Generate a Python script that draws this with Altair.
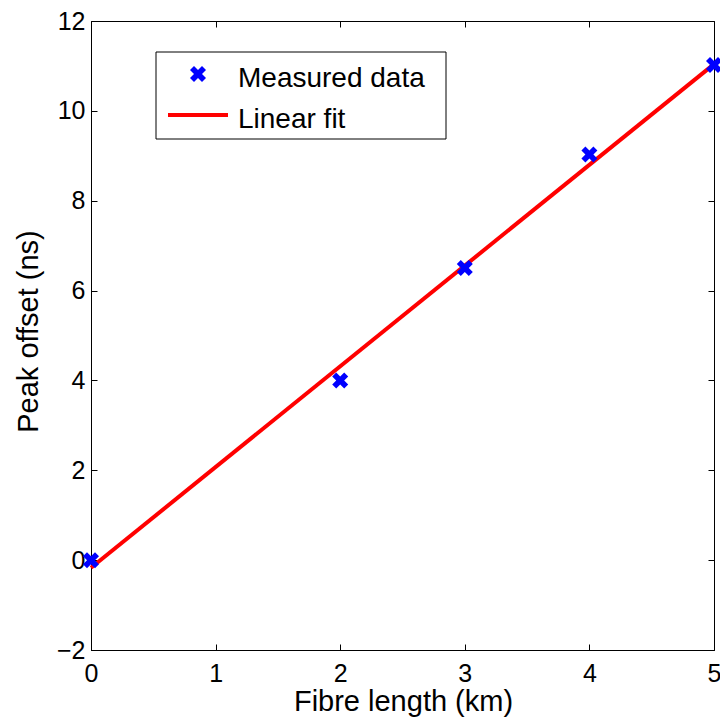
import altair as alt
import pandas as pd

# ---- data ----
fibre_km = [0, 2, 3, 4, 5]
offset_ns = [0.0, 4.0, 6.5, 9.03, 11.02]
fit_km = [0, 5]
fit_ns = [-0.17, 11.04]
x_ticks = [0, 1, 2, 3, 4, 5]
y_ticks = [-2, 0, 2, 4, 6, 8, 10, 12]
legend_labels = ["Measured data", "Linear fit"]
x_title = "Fibre length (km)"
y_title = "Peak offset (ns)"

FONT = "Liberation Sans"
W, H = 623, 629
XPATH = "M-1,-0.5L-0.5,-1L0,-0.5L0.5,-1L1,-0.5L0.5,0L1,0.5L0.5,1L0,0.5L-0.5,1L-1,0.5L-0.5,0Z"
BLUE = "#0000ff"
RED = "#ff0000"

meas = pd.DataFrame({"km": fibre_km, "ns": offset_ns})
fit = pd.DataFrame({"km": fit_km, "ns": fit_ns})

xs = alt.Scale(domain=[0, 5], nice=False, zero=False)
ys = alt.Scale(domain=[-2, 12], nice=False, zero=False)


def tick_axis(orient, values):
    return alt.Axis(orient=orient, values=values, labels=False, title=None,
                    domain=False, ticks=True, tickSize=6, offset=-6,
                    tickColor="black", tickWidth=1, grid=False)


main_x = alt.Axis(orient="bottom", values=x_ticks, ticks=False, domain=True,
                  domainColor="black", domainWidth=1, grid=False,
                  labelFont=FONT, labelFontSize=25, labelColor="black",
                  labelPadding=11, labelFlush=False,
                  title=x_title, titleFont=FONT, titleFontSize=29,
                  titleFontWeight="normal", titleColor="black",
                  titleX=312, titleY=60, titleBaseline="alphabetic",
                  titleAlign="center")

main_y = alt.Axis(orient="left", values=y_ticks, ticks=False, domain=True,
                  domainColor="black", domainWidth=1, grid=False,
                  labelFont=FONT, labelFontSize=25, labelColor="black",
                  labelPadding=6, labelFlush=False,
                  title=y_title, titleFont=FONT, titleFontSize=29,
                  titleFontWeight="normal", titleColor="black",
                  titleX=-54, titleY=310, titleAngle=270,
                  titleBaseline="alphabetic", titleAlign="center")

fit_line = alt.Chart(fit).mark_line(color=RED, strokeWidth=4).encode(
    x=alt.X("km:Q", scale=xs, axis=tick_axis("bottom", x_ticks)),
    y=alt.Y("ns:Q", scale=ys, axis=tick_axis("left", y_ticks)),
)

ghost = alt.Chart(fit).mark_line(opacity=0).encode(
    x=alt.X("km:Q", scale=xs, axis=tick_axis("top", x_ticks)),
    y=alt.Y("ns:Q", scale=ys, axis=tick_axis("right", y_ticks)),
)

points = alt.Chart(meas).mark_point(shape=XPATH, filled=True, size=256,
                                    color=BLUE, opacity=1).encode(
    x=alt.X("km:Q", scale=xs, axis=main_x),
    y=alt.Y("ns:Q", scale=ys, axis=main_y),
)

one = alt.Data(values=[{}])
legend_box = alt.Chart(one).mark_rect(fill="white", stroke="black", strokeWidth=1).encode(
    x=alt.value(65), x2=alt.value(355), y=alt.value(31), y2=alt.value(118))
legend_mark = alt.Chart(one).mark_point(shape=XPATH, filled=True, size=256,
                                        color=BLUE, opacity=1).encode(
    x=alt.value(107), y=alt.value(53))
legend_rule = alt.Chart(one).mark_rule(color=RED, strokeWidth=4).encode(
    x=alt.value(77), x2=alt.value(137), y=alt.value(94))
legend_t1 = alt.Chart(one).mark_text(text=legend_labels[0], font=FONT, fontSize=28,
                                     align="left", baseline="alphabetic",
                                     color="black").encode(
    x=alt.value(147), y=alt.value(65.5))
legend_t2 = alt.Chart(one).mark_text(text=legend_labels[1], font=FONT, fontSize=28,
                                     align="left", baseline="alphabetic",
                                     color="black").encode(
    x=alt.value(147), y=alt.value(106.5))

chart = alt.layer(
    fit_line, points, ghost, legend_box, legend_mark, legend_rule, legend_t1, legend_t2
).resolve_axis(x="independent", y="independent").properties(
    width=W, height=H,
    autosize=alt.AutoSizeParams(type="none"),
    padding={"left": 83, "top": 13, "right": 6, "bottom": 67},
).configure(background="white").configure_view(stroke="black", strokeWidth=1)

chart.save("out.html", embed_options={"renderer": "svg", "actions": False})
